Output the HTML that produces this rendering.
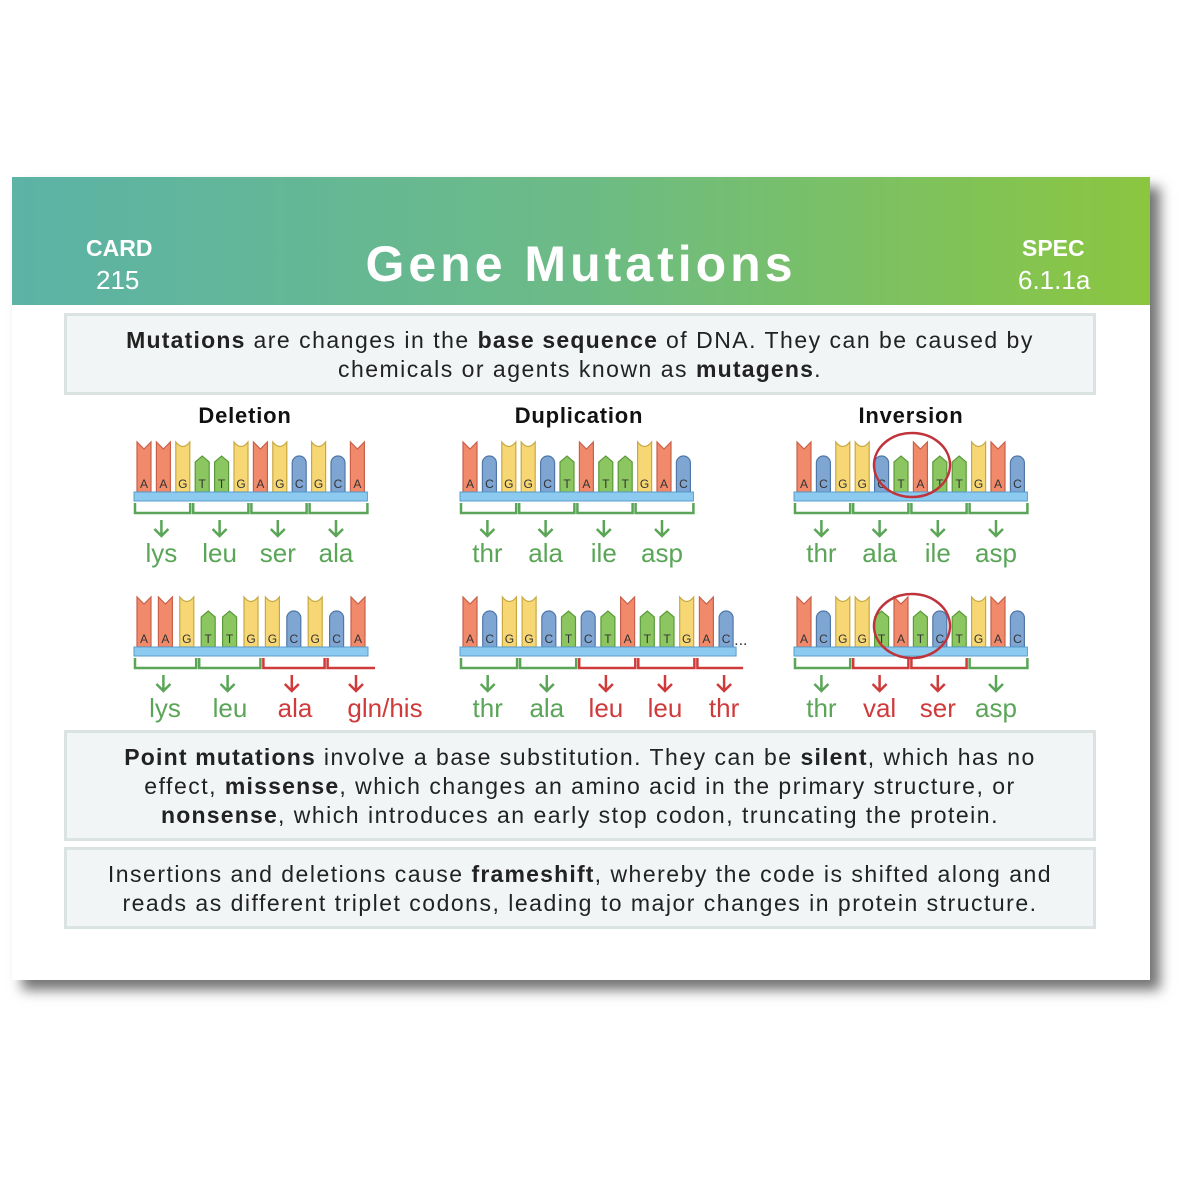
<!DOCTYPE html>
<html><head><meta charset="utf-8"><style>
body{margin:0;width:1200px;height:1200px;background:#fff;position:relative;overflow:hidden;font-family:"Liberation Sans",sans-serif}
.card{position:absolute;left:12px;top:177px;width:1138px;height:803px;background:#fff;box-shadow:10px 10px 12px rgba(0,0,0,0.55)}
.hdr{position:absolute;left:0;top:0;width:1138px;height:128px;background:linear-gradient(90deg,#5cb3a6 0%,#6cbb86 50%,#8bc640 100%);color:#fff}
.box{position:absolute;left:52px;width:1032px;background:#f1f5f6;border:3px solid #dbe2e2;box-sizing:border-box;text-align:center;font-size:23px;line-height:29px;color:#222;letter-spacing:1.5px;white-space:nowrap}
.box b{font-weight:bold;letter-spacing:1.2px}
</style></head><body>
<div class="card">
<div class="hdr">
<div style="position:absolute;left:74px;top:58px;font-size:23px;font-weight:bold">CARD</div>
<div style="position:absolute;left:84px;top:88px;font-size:26px">215</div>
<div style="position:absolute;left:0;width:1138px;top:58px;text-align:center;font-size:50px;font-weight:bold;letter-spacing:4px">Gene Mutations</div>
<div style="position:absolute;left:1010px;top:58px;font-size:23px;font-weight:bold">SPEC</div>
<div style="position:absolute;left:1006px;top:88px;font-size:26px">6.1.1a</div>
</div>
<div class="box" style="top:136px;height:82px;padding-top:10px"><b>Mutations</b> are changes in the <b>base sequence</b> of DNA. They can be caused by<br>chemicals or agents known as <b>mutagens</b>.</div>
<div class="box" style="top:553px;height:111px;padding-top:10px"><b>Point mutations</b> involve a base substitution. They can be <b>silent</b>, which has no<br>effect, <b>missense</b>, which changes an amino acid in the primary structure, or<br><b>nonsense</b>, which introduces an early stop codon, truncating the protein.</div>
<div class="box" style="top:670px;height:82px;padding-top:10px">Insertions and deletions cause <b>frameshift</b>, whereby the code is shifted along and<br>reads as different triplet codons, leading to major changes in protein structure.</div>
</div>
<svg id="s" width="1200" height="1200" style="position:absolute;left:0;top:0" font-family="Liberation Sans, sans-serif"></svg>
<script>
var s=document.getElementById('s'),h='';
var G='#5aa557',R='#cf3b3b';
function t(x,y,str,sz,c,w){h+='<text x="'+x+'" y="'+y+'" font-size="'+sz+'" fill="'+c+'" text-anchor="middle"'+(w?' font-weight="bold"':'')+(w?' letter-spacing="0.8"':'')+'>'+str+'</text>';}
t(245,423,'Deletion',22,'#111',1);t(579,423,'Duplication',22,'#111',1);t(911,423,'Inversion',22,'#111',1);
var col={A:['#f08a6a','#c9604a'],G:['#f7d774','#c8a840'],T:['#8cc660','#5a9a3a'],C:['#7fa6d3','#4f77a8']};
function strand(x0,by,seq,cols,labels,sp,dots,circ,lx){
 var w=14,n=seq.length;
 for(var i=0;i<n;i++){var b=seq[i],x=x0+i*sp,c=col[b],tall=(b=='A'||b=='G'),top=tall?by-50:by-36,bot=by,p;
  if(b=='A')p='M'+x+','+bot+'V'+top+'L'+(x+w/2)+','+(top+7)+'L'+(x+w)+','+top+'V'+bot+'Z';
  else if(b=='G')p='M'+x+','+bot+'V'+top+'Q'+(x+w/2)+','+(top+9)+' '+(x+w)+','+top+'V'+bot+'Z';
  else if(b=='T')p='M'+x+','+bot+'V'+(top+6)+'L'+(x+w/2)+','+top+'L'+(x+w)+','+(top+6)+'V'+bot+'Z';
  else p='M'+x+','+bot+'V'+(top+7)+'A7,7 0 0 1 '+(x+w)+','+(top+7)+'V'+bot+'Z';
  h+='<path d="'+p+'" fill="'+c[0]+'" stroke="'+c[1]+'" stroke-width="1.2"/>';
  h+='<text x="'+(x+w/2)+'" y="'+(by-4)+'" font-size="12" fill="#333" text-anchor="middle">'+b+'</text>';}
 var bx=x0-3,bw=(n-1)*sp+w+6;
 h+='<rect x="'+bx+'" y="'+by+'" width="'+bw+'" height="9" fill="#8ccbef" stroke="#5a9ccc" stroke-width="1"/>';
 if(dots)t(x0+n*sp+2,by-2,'...',16,'#333');
 for(var k=0;k<cols.length;k++){var c=cols[k]=='g'?G:R,xa=bx+k*3*sp+1,xb=bx+(k+1)*3*sp-2;
  var last=k==cols.length-1,open=last&&(n%3!=0||dots);
  if(last&&!open)xb=bx+bw;
  if(open)xb=bx+bw+7;
  var cx=x0+k*3*sp+sp+w/2-2;
  h+='<path d="M'+xa+','+(by+11)+'V'+(by+21)+'H'+xb+(open?'':'V'+(by+11))+'" fill="none" stroke="'+c+'" stroke-width="2.5"/>';
  h+='<path d="M'+cx+','+(by+28)+'V'+(by+44)+'M'+(cx-7)+','+(by+37)+'L'+cx+','+(by+44)+'L'+(cx+7)+','+(by+37)+'" fill="none" stroke="'+c+'" stroke-width="2.5"/>';
  t(lx&&lx[k]?lx[k]:cx,by+70,labels[k],26,c);}
 if(circ)h+='<ellipse cx="'+circ[0]+'" cy="'+circ[1]+'" rx="38" ry="32" fill="none" stroke="#c0333a" stroke-width="2.5"/>';
}
strand(137,492,'AAGTTGAGCGCA','gggg',['lys','leu','ser','ala'],19.4);
strand(463,492,'ACGGCTATTGAC','gggg',['thr','ala','ile','asp'],19.4);
strand(797,492,'ACGGCTATTGAC','gggg',['thr','ala','ile','asp'],19.4,0,[912,465]);
strand(137,647,'AAGTTGGCGCA','ggrr',['lys','leu','ala','gln/his'],21.4,0,0,[165,230,295,385]);
strand(463,647,'ACGGCTCTATTGAC','ggrrr',['thr','ala','leu','leu','thr'],19.7,1);
strand(797,647,'ACGGTATCTGAC','grrg',['thr','val','ser','asp'],19.4,0,[912,626]);
s.innerHTML=h;
</script>
</body></html>
